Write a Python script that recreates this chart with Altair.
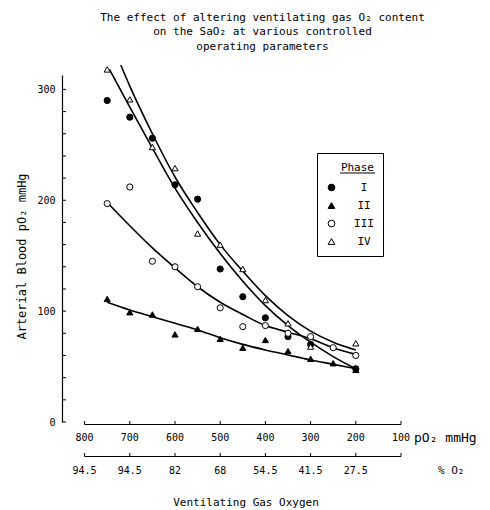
import altair as alt
import pandas as pd

# ---------------- data ----------------
title_lines = ["The effect of altering ventilating gas O₂ content",
               "on the SaO₂ at various controlled",
               "operating parameters"]
phases = ["I", "II", "III", "IV"]

point_x = [750, 700, 650, 600, 550, 500, 450, 400, 350, 300, 250, 200]
phase_I = [290, 275, 256, 214, 201, 138, 113, 94, 77, 70, None, 48]
phase_II = [111, 99, 97, 79, 84, 75, 67, 74, 64, 57, 53, 47]
phase_III = [197, 212, 145, 140, 122, 103, 86, 87, 80, 77, 67, 60]
phase_IV = [318, 291, 248, 229, 170, 160, 138, 110, 89, 68, None, 71]

curve_x_I = [745, 700, 650, 600, 550, 500, 450, 400, 350, 300, 250, 200]
curve_I = [318, 284, 247, 211, 180, 152, 127, 105, 87, 72, 59, 48]
curve_x_II = [750, 700, 650, 600, 550, 500, 450, 400, 350, 300, 250, 200]
curve_II = [108, 101, 95, 89, 83, 76, 70, 65, 60.5, 56, 52, 48]
curve_x_III = [750, 700, 650, 600, 550, 500, 450, 400, 350, 300, 250, 200]
curve_III = [198, 177, 157, 139, 122, 108, 97, 87, 81, 75, 67, 61]
curve_x_IV = [720, 700, 650, 600, 550, 500, 450, 400, 350, 300, 250, 200]
curve_IV = [322, 303, 260, 221, 189, 160, 136, 114, 96, 82, 72, 65]

po2_ticks = [800, 700, 600, 500, 400, 300, 200, 100]
po2_labels = ["800", "700", "600", "500", "400", "300", "200", "100"]
o2_labels = ["94.5", "94.5", "82", "68", "54.5", "41.5", "27.5", ""]
y_minor_ticks = list(range(0, 301, 20))
y_label_values = [0, 100, 200, 300]

# ---------------- tables ----------------
pts = []
for ph, vals in zip(phases, [phase_I, phase_II, phase_III, phase_IV]):
    for x, v in zip(point_x, vals):
        if v is not None:
            pts.append({"x": x, "y": v, "Phase": ph})
pts = pd.DataFrame(pts)

cur = []
for ph, xs, ys in zip(phases, [curve_x_I, curve_x_II, curve_x_III, curve_x_IV],
                      [curve_I, curve_II, curve_III, curve_IV]):
    for i, (x, y) in enumerate(zip(xs, ys)):
        cur.append({"x": x, "y": y, "Phase": ph, "o": i})
cur = pd.DataFrame(cur)

xt = pd.DataFrame({"v": po2_ticks, "p": po2_labels, "o2": o2_labels})
yt = pd.DataFrame({"x": [850] * len(y_minor_ticks), "y": y_minor_ticks})
span = pd.DataFrame({"a": [800], "b": [100]})

FONT = "DejaVu Sans Mono"
W, H = 339, 347
x_scale = alt.Scale(domain=[850, 100], nice=False, zero=False)
y_scale = alt.Scale(domain=[0, 313], nice=False, zero=True)

y_axis = alt.Axis(
    values=y_label_values, ticks=False, grid=False, domain=True,
    domainColor="black", domainWidth=1.2, labelFont=FONT, labelFontSize=10,
    labelColor="black", labelPadding=7,
    title="Arterial Blood pO₂ mmHg", titleFont=FONT, titleFontSize=12,
    titleFontWeight="normal", titleColor="black", titleX=-34, titleY=181)

Y = alt.Y("y:Q", scale=y_scale, axis=y_axis)

curves = alt.Chart(cur).mark_line(color="black", strokeWidth=1.6, interpolate="monotone").encode(
    x=alt.X("x:Q", scale=x_scale, axis=None),
    y=Y,
    detail="Phase:N",
    order="o:Q",
)

leg = alt.Legend(title="Phase")
points = alt.Chart(pts).mark_point(filled=True, strokeWidth=1, size=38, opacity=1).encode(
    x=alt.X("x:Q", scale=x_scale, axis=None),
    y=Y,
    shape=alt.Shape("Phase:N", scale=alt.Scale(domain=phases,
                    range=["circle", "triangle-up", "circle", "triangle-up"]), legend=leg),
    fill=alt.Fill("Phase:N", scale=alt.Scale(domain=phases,
                  range=["black", "black", "white", "white"]), legend=leg),
    stroke=alt.Stroke("Phase:N", scale=alt.Scale(domain=phases,
                      range=["black", "black", "black", "black"]), legend=leg),
)

ytick = alt.Chart(yt).mark_rule(color="black", strokeWidth=1).encode(
    y=Y, x=alt.value(0), x2=alt.value(4))

def xrow(line_y, label_col, label_y):
    line = alt.Chart(span).mark_rule(color="black", strokeWidth=1.2).encode(
        x=alt.X("a:Q", scale=x_scale, axis=None), x2="b:Q", y=alt.value(line_y))
    ticks = alt.Chart(xt).mark_rule(color="black", strokeWidth=1).encode(
        x=alt.X("v:Q", scale=x_scale, axis=None), y=alt.value(line_y - 3.5), y2=alt.value(line_y))
    labels = alt.Chart(xt).mark_text(font=FONT, fontSize=10, color="black", baseline="middle").encode(
        x=alt.X("v:Q", scale=x_scale, axis=None), y=alt.value(label_y), text=f"{label_col}:N")
    return line + ticks + labels

row1 = xrow(349.5, "p", 363)
row2 = xrow(381.5, "o2", 396)

unit1 = alt.Chart(span).mark_text(font=FONT, fontSize=13, color="black", align="left",
                                  baseline="middle", dx=13, text="pO₂ mmHg").encode(
    x=alt.X("b:Q", scale=x_scale, axis=None), y=alt.value(363))
unit2 = alt.Chart(span).mark_text(font=FONT, fontSize=11, color="black", align="left",
                                  baseline="middle", dx=37, text="% O₂").encode(
    x=alt.X("b:Q", scale=x_scale, axis=None), y=alt.value(396))
xtitle = alt.Chart(span).mark_text(font=FONT, fontSize=11, color="black", align="center",
                                   baseline="middle", text="Ventilating Gas Oxygen").encode(
    x=alt.value(184), y=alt.value(428))
underline = alt.Chart(span).mark_rule(color="black", strokeWidth=1).encode(
    x=alt.value(278), x2=alt.value(313), y=alt.value(98))

chart = alt.layer(curves, points, ytick, row1, row2, unit1, unit2, xtitle, underline).properties(
    width=W, height=H,
    title=alt.TitleParams(text=title_lines, font=FONT, fontSize=11, fontWeight="normal",
                          color="black", anchor="middle", dx=31, offset=10, lineHeight=14.5),
    padding={"left": 62, "top": 75, "right": 490 - 62 - W, "bottom": 510 - 75 - H},
    autosize="none",
).configure_view(stroke=None).configure_legend(
    orient="none", legendX=255, legendY=78, padding=9, strokeColor="black", strokeWidth=1,
    titleFont=FONT, titleFontSize=11, titleFontWeight="normal", titleColor="black",
    titleAnchor="end", titlePadding=9, labelFont=FONT, labelFontSize=11, labelColor="black",
    labelAlign="center", labelOffset=27, symbolStrokeWidth=1,
    symbolSize=45, rowPadding=6,
)

chart.save("out.html", embed_options={"renderer": "svg", "actions": False})
